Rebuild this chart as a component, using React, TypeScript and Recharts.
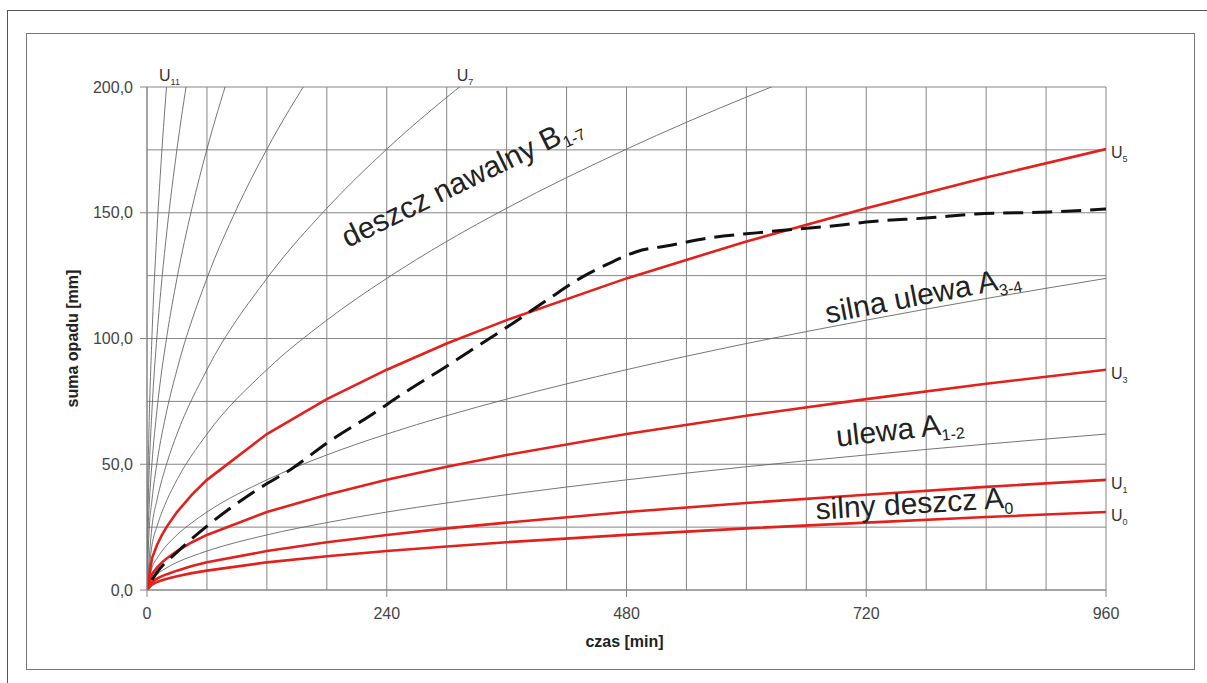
import { LineChart, Line, XAxis, YAxis, CartesianGrid, ReferenceDot } from "recharts";

const FONT = '"Liberation Sans", Arial, sans-serif';
const GRID = "#858585";
const RED = "#e3211c";
const THIN = "#666";

// czas [min]
const X_TICKS = [0, 240, 480, 720, 960];
const Y_TICKS = [0, 50, 100, 150, 200];
const GRID_X = [0, 60, 120, 180, 240, 300, 360, 420, 480, 540, 600, 660, 720, 780, 840, 900, 960];
const GRID_Y = [0, 25, 50, 75, 100, 125, 150, 175, 200];

// wspólne punkty czasu dla U0–U5
const T_MAIN = [0, 5, 10, 15, 20, 30, 45, 60, 120, 180, 240, 300, 360, 480, 600, 720, 840, 960];
const U0 = [0, 2.2, 3.2, 3.9, 4.5, 5.5, 6.7, 7.7, 11.0, 13.4, 15.5, 17.3, 19.0, 21.9, 24.5, 26.8, 29.0, 31.0];
const U1 = [0, 3.2, 4.5, 5.5, 6.3, 7.7, 9.5, 11.0, 15.5, 19.0, 21.9, 24.5, 26.8, 31.0, 34.6, 37.9, 41.0, 43.8];
const U2 = [0, 4.5, 6.3, 7.7, 8.9, 11.0, 13.4, 15.5, 21.9, 26.8, 31.0, 34.6, 37.9, 43.8, 49.0, 53.7, 58.0, 62.0];
const U3 = [0, 6.3, 8.9, 11.0, 12.6, 15.5, 19.0, 21.9, 31.0, 37.9, 43.8, 49.0, 53.7, 62.0, 69.3, 75.9, 82.0, 87.6];
const U4 = [0, 8.9, 12.6, 15.5, 17.9, 21.9, 26.8, 31.0, 43.8, 53.7, 62.0, 69.3, 75.9, 87.6, 98.0, 107.3, 115.9, 123.9];
const U5 = [0, 12.6, 17.9, 21.9, 25.3, 31.0, 37.9, 43.8, 62.0, 75.9, 87.6, 98.0, 107.3, 123.9, 138.6, 151.8, 164.0, 175.3];

// strome krzywe – kończą się nad 200 mm
const T_U6 = [0, 5, 10, 20, 30, 60, 120, 180, 240, 300, 360, 480, 600, 660];
const U6 = [0, 17.9, 25.3, 35.8, 43.8, 62.0, 87.6, 107.3, 123.9, 138.6, 151.8, 175.3, 196.0, 205.5];
const T_U7 = [0, 5, 10, 20, 30, 60, 120, 180, 240, 330];
const U7 = [0, 25.3, 35.8, 50.6, 62.0, 87.6, 123.9, 151.8, 175.3, 205.5];
const T_U8 = [0, 2, 5, 10, 20, 30, 60, 90, 120, 165];
const U8 = [0, 22.6, 35.8, 50.6, 71.6, 87.6, 123.9, 151.8, 175.3, 205.5];
const T_U9 = [0, 1, 2, 5, 10, 20, 30, 45, 60, 82];
const U9 = [0, 22.6, 32.0, 50.6, 71.6, 101.2, 123.9, 151.8, 175.3, 204.9];
const T_U10 = [0, 0.5, 1, 2, 5, 10, 15, 20, 30, 41];
const U10 = [0, 22.6, 32.0, 45.3, 71.6, 101.2, 123.9, 143.1, 175.3, 204.9];
const T_U11 = [0, 0.25, 1, 2, 5, 10, 15, 21];
const U11 = [0, 22.6, 45.3, 64.0, 101.2, 143.1, 175.3, 207.4];

// opad rzeczywisty (linia przerywana)
const T_RAIN = [5, 10, 30, 60, 110, 146, 180, 226, 256, 300, 333, 366, 403, 436, 466, 480, 490, 523, 563, 610, 650, 693, 720, 783, 830, 903, 960];
const RAIN = [4, 7, 15, 25.4, 39.8, 48.5, 58.4, 70, 78, 89, 97.5, 106, 116, 124.5, 130.5, 133, 134.5, 137, 140, 142, 143.5, 145, 146.3, 148, 149.5, 150.3, 151.5];

const toPoints = (ts: number[], vs: number[]) => ts.map((t, i) => ({ t, v: vs[i] }));

const fmtY = (v: number) => v.toFixed(1).replace(".", ",");

function ULabel(props: any) {
  const { viewBox, name, sub, offX = 0, offY = 0 } = props;
  const x = viewBox.x + offX;
  const y = viewBox.y + offY;
  return (
    <text x={x} y={y} fontSize={16} fill="#333" fontFamily={FONT}>
      {name}
      <tspan fontSize={9} dy={4}>{sub}</tspan>
    </text>
  );
}

// Label nadpisuje "angle", stąd "rot"
function ZoneLabel(props: any) {
  const { viewBox, text, sub, rot } = props;
  const { x, y } = viewBox;
  return (
    <g transform={`rotate(${rot} ${x} ${y})`}>
      <text x={x} y={y} fontSize={30} fill="#222" fontFamily={FONT}>
        {text}
        <tspan fontSize={16} dy={6}>{sub}</tspan>
      </text>
    </g>
  );
}

function XTitle(props: any) {
  const { viewBox } = props;
  return (
    <text x={viewBox.x + viewBox.width / 2 - 2} y={647} textAnchor="middle" fontSize={16} fontWeight="bold" fill="#222" fontFamily={FONT}>
      czas [min]
    </text>
  );
}

function YTitle(props: any) {
  const { viewBox } = props;
  const x = viewBox.x - 9;
  const y = viewBox.y + viewBox.height / 2;
  return (
    <g transform={`rotate(-90 ${x} ${y})`}>
      <text x={x} y={y} textAnchor="middle" fontSize={16} fontWeight="bold" fill="#222" fontFamily={FONT}>
        suma opadu [mm]
      </text>
    </g>
  );
}

const redSeries = [
  { key: "U0", ts: T_MAIN, vs: U0 },
  { key: "U1", ts: T_MAIN, vs: U1 },
  { key: "U3", ts: T_MAIN, vs: U3 },
  { key: "U5", ts: T_MAIN, vs: U5 },
];

const thinSeries = [
  { key: "U2", ts: T_MAIN, vs: U2 },
  { key: "U4", ts: T_MAIN, vs: U4 },
  { key: "U6", ts: T_U6, vs: U6 },
  { key: "U7", ts: T_U7, vs: U7 },
  { key: "U8", ts: T_U8, vs: U8 },
  { key: "U9", ts: T_U9, vs: U9 },
  { key: "U10", ts: T_U10, vs: U10 },
  { key: "U11", ts: T_U11, vs: U11 },
];

const tick = { fontSize: 16, fill: "#444", fontFamily: FONT };

export default function App() {
  return (
    <div style={{ position: "absolute", left: 0, top: 0, width: 1207, height: 683, overflow: "hidden", background: "#fff" }}>
      <div style={{ position: "absolute", left: 7, top: 10, width: 1260, height: 720, border: "1.5px solid #555" }} />
      <div style={{ position: "absolute", left: 26, top: 33, width: 1167, height: 635, border: "1px solid #777" }} />
      <div style={{ position: "absolute", left: 0, top: 0 }}>
        <LineChart width={1207} height={683} margin={{ top: 87, right: 101, bottom: 63, left: 87 }}>
          <CartesianGrid stroke={GRID} strokeWidth={1} verticalValues={GRID_X} horizontalValues={GRID_Y} />
          <XAxis
            type="number"
            dataKey="t"
            domain={[0, 960]}
            ticks={X_TICKS}
            allowDataOverflow
            height={30}
            tickSize={7}
            tickMargin={11}
            tick={tick}
            stroke={GRID}
            label={<XTitle />}
          />
          <YAxis
            type="number"
            domain={[0, 200]}
            ticks={Y_TICKS}
            allowDataOverflow
            width={60}
            tickSize={7}
            tickMargin={7}
            tick={tick}
            tickFormatter={fmtY}
            stroke={GRID}
            label={<YTitle />}
          />
          {thinSeries.map((s) => (
            <Line
              key={s.key}
              data={toPoints(s.ts, s.vs)}
              dataKey="v"
              type="monotone"
              stroke={THIN}
              strokeWidth={0.9}
              dot={false}
              activeDot={false}
              isAnimationActive={false}
            />
          ))}
          {redSeries.map((s) => (
            <Line
              key={s.key}
              data={toPoints(s.ts, s.vs)}
              dataKey="v"
              type="linear"
              stroke={RED}
              strokeWidth={2.6}
              dot={false}
              activeDot={false}
              isAnimationActive={false}
            />
          ))}
          <Line
            data={toPoints(T_RAIN, RAIN)}
            dataKey="v"
            type="monotone"
            stroke="#111"
            strokeWidth={3}
            strokeDasharray="20 9"
            dot={false}
            activeDot={false}
            isAnimationActive={false}
          />

          <ReferenceDot x={12} y={200} r={0} fill="none" stroke="none" label={<ULabel name="U" sub="11" offY={-6} />} />
          <ReferenceDot x={310} y={200} r={0} fill="none" stroke="none" label={<ULabel name="U" sub="7" offY={-6} />} />
          {redSeries.map((s) => (
            <ReferenceDot
              key={"l" + s.key}
              x={960}
              y={s.vs[s.vs.length - 1]}
              r={0}
              fill="none"
              stroke="none"
              label={<ULabel name="U" sub={s.key.slice(1)} offX={5} offY={9} />}
            />
          ))}

          <ReferenceDot x={201} y={136} r={0} fill="none" stroke="none" label={<ZoneLabel text="deszcz nawalny B" sub="1-7" rot={-26} />} />
          <ReferenceDot x={681} y={106} r={0} fill="none" stroke="none" label={<ZoneLabel text="silna ulewa A" sub="3-4" rot={-11} />} />
          <ReferenceDot x={691} y={57} r={0} fill="none" stroke="none" label={<ZoneLabel text="ulewa A" sub="1-2" rot={-6.5} />} />
          <ReferenceDot x={670} y={28} r={0} fill="none" stroke="none" label={<ZoneLabel text="silny deszcz A" sub="0" rot={-3.5} />} />
        </LineChart>
      </div>
    </div>
  );
}
